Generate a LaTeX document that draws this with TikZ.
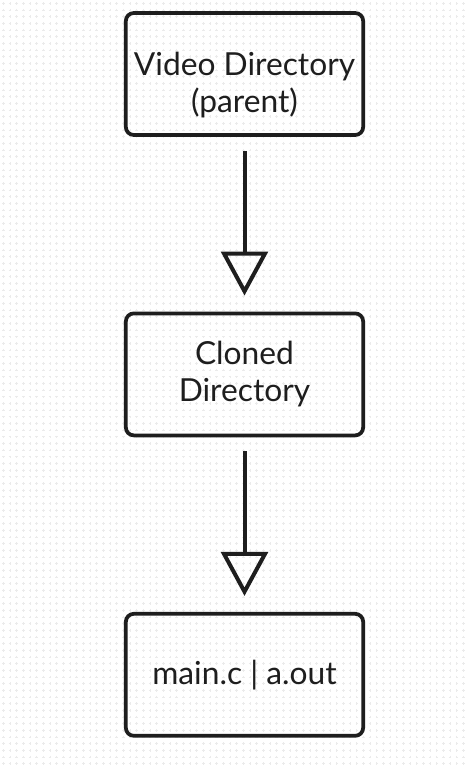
\documentclass[tikz,border=0pt]{standalone}
\usepackage{fontspec}
\setmainfont{Lato}
\usetikzlibrary{positioning, arrows.meta}
\definecolor{inkdark}{HTML}{1E1E1E}
\definecolor{gridgray}{HTML}{EBEBEB}
\tikzset{
  dirbox/.style={draw=inkdark, line width=2.8pt, rounded corners=6pt,
    minimum width=178pt, minimum height=91.5pt, inner sep=0pt,
    align=center, text=inkdark, font=\fontsize{23.8}{27.75}\selectfont},
  flowline/.style={draw=inkdark, line width=3pt,
    -{Triangle[open, length=33pt, width=35pt]}},
  gridmark/.style={draw=gridgray, line width=0.6pt}
}

\begin{document}
\begin{tikzpicture}[x=0.75pt, y=-0.75pt]
  \useasboundingbox (0,0) rectangle (467,769);
  \fill[white] (0,0) rectangle (467,769);

  % Dotted background grid
  \foreach \gy in {0,...,115}{
    \draw[gridmark] \foreach \gx in {0,...,70}{
      (3.3+\gx*6.67-1.3, 3.3+\gy*6.67) -- ++(2.6,0)
      (3.3+\gx*6.67, 3.3+\gy*6.67-1.3) -- ++(0,2.6)
    };
  }

  % Directory boxes
  \node[dirbox] (video) at (244.5,74) {};
  \node[text=inkdark, align=center, font=\fontsize{23.8}{27.75}\selectfont] (videotext) at ([yshift=-8.5pt]video.center) {Video Directory\\(parent)};
  \node[dirbox, below=131pt of video] (cloned) {Cloned\\Directory};
  \node[dirbox, below=131pt of cloned] (build) {main.c | a.out};

  % Arrows
  \draw[flowline, shorten <=10.5pt, shorten >=12pt] (video.south) -- (cloned.north);
  \draw[flowline, shorten <=10.5pt, shorten >=12pt] (cloned.south) -- (build.north);
\end{tikzpicture}
\end{document}
